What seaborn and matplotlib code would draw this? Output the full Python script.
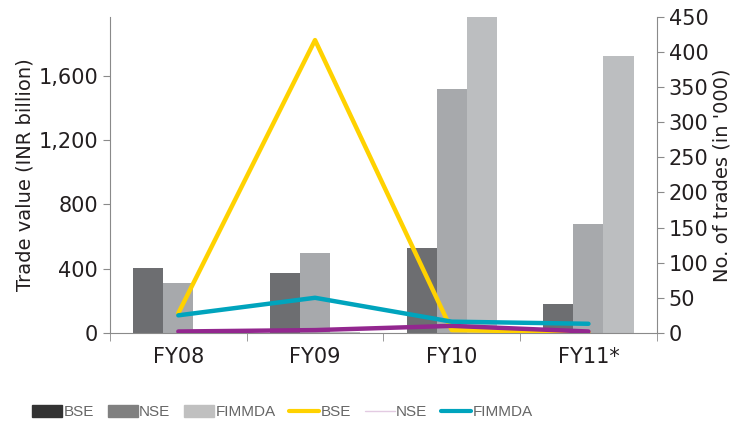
import matplotlib
matplotlib.use('Agg')
import matplotlib.pyplot as plt
import seaborn as sns
import pandas as pd
import numpy as np
from matplotlib.patches import Patch
from matplotlib.lines import Line2D
from matplotlib.ticker import FuncFormatter, FixedLocator

# Data
years = ['FY08', 'FY09', 'FY10', 'FY11*']
value_bse = [403, 376, 528, 181]
value_nse = [311, 497, 1518, 677]
value_fimmda = [5, 5, 1968, 1726]

trades_bse = [28, 417, 4, 1]
trades_nse = [2, 4, 10, 2]
trades_fimmda = [25, 50, 16, 13]

bar_colors = ['#6d6e71', '#a7a9ac', '#bcbec0']

df = pd.DataFrame({
    'year': years * 3,
    'value': value_bse + value_nse + value_fimmda,
    'exchange': ['BSE'] * 4 + ['NSE'] * 4 + ['FIMMDA'] * 4,
})

sns.set_style('white')
plt.rcParams['font.family'] = ['DejaVu Sans']

fig = plt.figure(figsize=(7.43, 4.23), dpi=100)
ax = fig.add_axes([0.148, 0.213, 0.736, 0.747])

sns.barplot(data=df, x='year', y='value', hue='exchange', palette=bar_colors,
            width=0.66, saturation=1, ax=ax, legend=False, linewidth=0,
            edgecolor='none')

ax2 = ax.twinx()
xpos = np.arange(len(years))
sns.lineplot(x=xpos, y=trades_bse, color='#ffd200', lw=3.2, ax=ax2)
sns.lineplot(x=xpos, y=trades_nse, color='#93278f', lw=3.2, ax=ax2)
sns.lineplot(x=xpos, y=trades_fimmda, color='#00a4bd', lw=3.2, ax=ax2)

ax.set_xlim(-0.5, len(years) - 0.5)
ax.set_ylim(0, 1968)
ax.set_yticks([0, 400, 800, 1200, 1600])
ax.yaxis.set_major_formatter(FuncFormatter(lambda v, p: f'{int(v):,}'))
ax2.set_ylim(0, 450)
ax2.set_yticks(range(0, 451, 50))

ax.set_xlabel('')
ax.set_ylabel('Trade value (INR billion)', fontsize=14, color='#231f20', labelpad=3)
ax2.set_ylabel("No. of trades (in '000)", fontsize=14, color='#231f20', labelpad=3)

spine_col = '#8a8a8a'
for a in (ax, ax2):
    a.spines['top'].set_visible(False)
    a.spines['left'].set_color(spine_col)
    a.spines['right'].set_color(spine_col)
    a.spines['bottom'].set_color(spine_col)
ax.spines['right'].set_visible(False)
ax2.spines['left'].set_visible(False)
ax2.spines['bottom'].set_visible(False)

ax.tick_params(axis='y', which='major', length=5, color=spine_col, labelsize=15,
               labelcolor='#231f20', left=True, direction='out')
ax2.tick_params(axis='y', which='major', length=5, color=spine_col, labelsize=15,
                labelcolor='#231f20', right=True, direction='out')
ax.tick_params(axis='x', which='major', length=0, labelsize=15, labelcolor='#231f20', pad=10)
ax.xaxis.set_minor_locator(FixedLocator(np.arange(-0.5, len(years), 1.0)))
ax.tick_params(axis='x', which='minor', length=6, color=spine_col, bottom=True, direction='out')

handles = [
    Patch(color='#333333', label='BSE'),
    Patch(color='#808080', label='NSE'),
    Patch(color='#c0c0c0', label='FIMMDA'),
    Line2D([], [], color='#ffd200', lw=3, label='BSE'),
    Line2D([], [], color='#e3cbe2', lw=1, label='NSE'),
    Line2D([], [], color='#00a4bd', lw=3, label='FIMMDA'),
]
fig.legend(handles=handles, loc='center left', bbox_to_anchor=(0.025, 0.026), ncol=6,
           frameon=False, handlelength=1.95, handleheight=0.9,
           handletextpad=0.1, columnspacing=0.9, labelcolor='#666666',
           prop={'family': ['Liberation Sans', 'DejaVu Sans'], 'size': 11})

fig.savefig('out.png', dpi=100)
